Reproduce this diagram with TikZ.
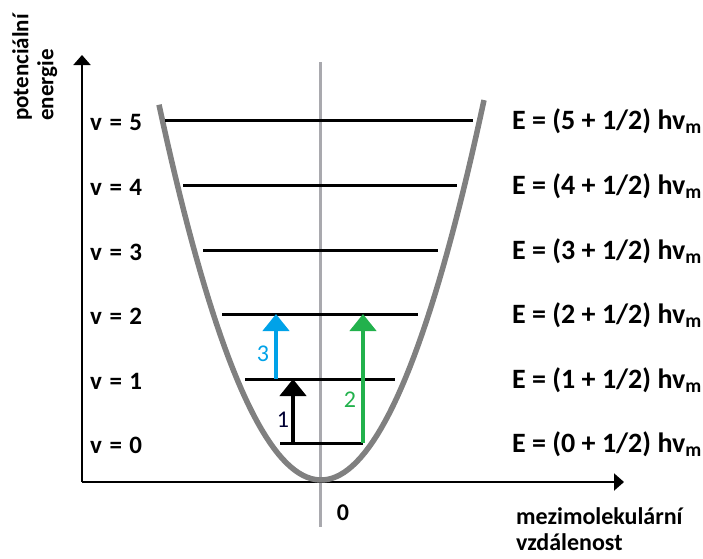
\documentclass[tikz,border=0pt]{standalone}
\usepackage{fontspec}
\setmainfont{Carlito}
\usepackage{xcolor}
\usepackage{tikz}
\usetikzlibrary{
  arrows.meta,
  positioning,
}
\definecolor{wellgray}{HTML}{808080}
\definecolor{midgray}{HTML}{A9A9AE}
\definecolor{jumpblue}{HTML}{00A2E8}
\definecolor{jumpgreen}{HTML}{22B14C}

\begin{document}
\begin{tikzpicture}[
    x=1pt, y=-1pt,
    axis/.style={draw=black, line width=2pt,
                 -{Triangle[length=10pt, width=17pt]}},
    level/.style={draw=black, line width=3pt},
    well/.style={draw=wellgray, line width=5.5pt},
    jump/.style={line width=4.5pt,
                 -{Triangle[length=17pt, width=26pt]}},
    vlabel/.style={anchor=west, inner sep=0pt,
                   font=\fontsize{25}{28}\selectfont\bfseries},
    elabel/.style={anchor=west, inner sep=0pt,
                   font=\fontsize{28}{32}\selectfont\bfseries},
    numlabel/.style={inner sep=0pt, font=\fontsize{24}{26}\selectfont},
    axislabel/.style={inner sep=0pt, align=left,
                      font=\fontsize{24}{26}\selectfont\bfseries},
  ]
  \useasboundingbox (0,0) rectangle (703,558);

  % axes and centre line
  \coordinate (origin) at (82,482);
  \coordinate (ytip)   at (82,55);
  \coordinate (xtip)   at (624,482);
  \coordinate (vtop)   at (320,62);
  \coordinate (vbot)   at (320,527);
  \draw[midgray, line width=3pt] (vtop) -- (vbot);
  \draw[axis] (origin) -- (ytip);
  \draw[axis] (origin) -- (xtip);

  % potential well
  \draw[well] plot[domain=-162:163, samples=80]
    ({321+\x}, {480-(0.11958*\x)^2});

  % vibrational levels
  \foreach \k/\yy/\xl/\xr in {0/443/280/363, 1/379/245/395, 2/314/222/418,
                              3/250/203/438, 4/185/183/457, 5/120/165/473} {
    \coordinate (l\k) at (\xl,\yy);
    \coordinate (r\k) at (\xr,\yy);
    \draw[level] (l\k) -- (r\k);
    \node[vlabel] (v\k) at (90,\yy+2) {v\hspace{0.3em}=\hspace{0.3em}\k};
    \node[elabel] (E\k) at (512,\yy+1) {E = (\k\ + 1/2) hv\textsubscript{m}};
  }

  % transitions
  \coordinate (s1) at (293,443);
  \coordinate (t1) at (293,379);
  \coordinate (s3) at (276,379);
  \coordinate (t3) at (276,314);
  \coordinate (s2) at (363,443);
  \coordinate (t2) at (363,314);
  \draw[jump, black]     (s1) -- (t1);
  \draw[jump, jumpblue]  (s3) -- (t3);
  \draw[jump, jumpgreen] (s2) -- (t2);
  \node[numlabel, text=black!80!blue] (n1) at (283,420) {1};
  \node[numlabel, text=jumpblue]      (n3) at (263,354) {3};
  \node[numlabel, text=jumpgreen]     (n2) at (350,400) {2};

  % axis labels
  \node[axislabel] (zero) at (343,513) {0};
  \node[axislabel, anchor=north west] (xlab) at (516,507)
    {mezimolekulární\\vzdálenost};
  \node[axislabel, anchor=north west, rotate=90,
        font=\fontsize{23}{25}\selectfont\bfseries] (ylab) at (12,121)
    {potenciální\\energie};
\end{tikzpicture}
\end{document}
